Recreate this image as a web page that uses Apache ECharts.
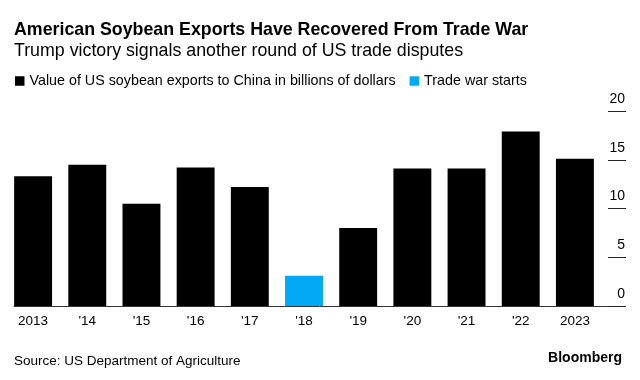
<!DOCTYPE html>
<html>
<head>
<meta charset="utf-8">
<script src="https://cdn.jsdelivr.net/npm/echarts@6/dist/echarts.min.js"></script>
<style>
html,body{margin:0;padding:0;background:#fff;}
#chart{width:640px;height:380px;}
</style>
</head>
<body>
<div id="chart"></div>
<script>
const categories = ['2013', "'14", "'15", "'16", "'17", "'18", "'19", "'20", "'21", "'22", '2023'];
const exportValues = [13.3, 14.5, 10.5, 14.2, 12.2, 3.1, 8.0, 14.1, 14.1, 17.9, 15.1];
const tradeWarYear = "'18";
const yTicks = [0, 5, 10, 15, 20];

const titleText = 'American Soybean Exports Have Recovered From Trade War';
const subtitleText = 'Trump victory signals another round of US trade disputes';
const seriesName = 'Value of US soybean exports to China in billions of dollars';
const tradeWarName = 'Trade war starts';
const sourceText = 'Source: US Department of Agriculture';

const FONT = "'Liberation Sans', Arial, Helvetica, sans-serif";

const blackData = exportValues.map((v, i) => categories[i] === tradeWarYear ? '-' : v);
const blueData = exportValues.map((v, i) => categories[i] === tradeWarYear ? v : '-');

const chart = echarts.init(document.getElementById('chart'), null, {renderer: 'canvas'});
chart.setOption({
  animation: false,
  backgroundColor: '#ffffff',
  textStyle: {fontFamily: FONT},
  title: [
    {text: titleText, left: 14, top: 21, padding: 0,
     textStyle: {fontFamily: FONT, fontSize: 17.8, fontWeight: 'bold', color: '#000'}},
    {text: subtitleText, left: 14, top: 42, padding: 0,
     textStyle: {fontFamily: FONT, fontSize: 17.8, fontWeight: 'normal', color: '#000'}},
    {text: sourceText, left: 14, top: 354, padding: 0,
     textStyle: {fontFamily: FONT, fontSize: 13.5, fontWeight: 'normal', color: '#000'}},
    {text: 'Bloomberg', right: 18, top: 351, padding: 0,
     textStyle: {fontFamily: FONT, fontSize: 14, fontWeight: 'bold', color: '#000'}}
  ],
  legend: {
    left: 15, top: 74, padding: 0,
    itemWidth: 9.5, itemHeight: 9.5, itemGap: 14,
    icon: 'rect',
    selectedMode: false,
    data: [seriesName, tradeWarName],
    textStyle: {fontFamily: FONT, fontSize: 14.3, color: '#000', padding: [0, 0, 0, 0]}
  },
  grid: [
    {left: 6, right: 38, top: 111, bottom: 74, containLabel: false},
    {left: 14, right: 15, top: 111, bottom: 74, containLabel: false}
  ],
  xAxis: [
    {
      type: 'category', gridIndex: 0, data: categories,
      axisLine: {show: false}, axisTick: {show: false},
      axisLabel: {fontFamily: FONT, fontSize: 13.5, color: '#000', margin: 8, interval: 0}
    },
    {
      type: 'value', gridIndex: 1, min: 0, max: 1,
      axisLine: {show: true, lineStyle: {color: '#333', width: 1}},
      axisTick: {show: false}, axisLabel: {show: false}, splitLine: {show: false}
    }
  ],
  yAxis: [
    {
      type: 'value', gridIndex: 0, position: 'right', offset: 6,
      min: yTicks[0], max: yTicks[yTicks.length - 1], interval: 5,
      axisLine: {show: false},
      axisTick: {show: true, inside: false, length: 18, lineStyle: {color: '#222', width: 1}},
      splitLine: {show: false},
      axisLabel: {fontFamily: FONT, fontSize: 14, color: '#000', align: 'right',
                  verticalAlign: 'bottom', margin: 17, padding: [0, 0, 5, 0]}
    },
    {type: 'value', gridIndex: 1, min: 0, max: 1, show: false}
  ],
  series: [
    {
      name: seriesName, type: 'bar', xAxisIndex: 0, yAxisIndex: 0,
      data: blackData, barCategoryGap: '30%', barGap: '-100%',
      itemStyle: {color: '#000000'}
    },
    {
      name: tradeWarName, type: 'bar', xAxisIndex: 0, yAxisIndex: 0,
      data: blueData, barCategoryGap: '30%', barGap: '-100%',
      itemStyle: {color: '#03A9F4'}
    }
  ]
});
</script>
</body>
</html>
